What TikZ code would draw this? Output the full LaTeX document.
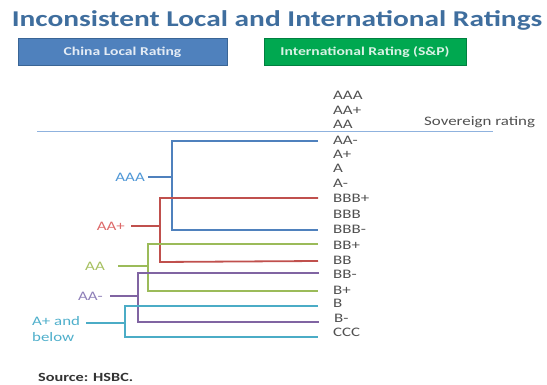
\documentclass[tikz,border=0pt]{standalone}
\usepackage{fontspec}
\setmainfont{Carlito}[FakeStretch=1.3]
\definecolor{titleblue}{HTML}{3F6E9E}
\definecolor{boxblue}{HTML}{4F81BD}
\definecolor{boxblueb}{HTML}{3A6595}
\definecolor{boxgreen}{HTML}{00A850}
\definecolor{boxgreenb}{HTML}{008040}
\definecolor{cblue}{HTML}{4F81BD}
\definecolor{cred}{HTML}{C0504D}
\definecolor{cgreen}{HTML}{9BBB59}
\definecolor{cpurple}{HTML}{8064A2}
\definecolor{ccyan}{HTML}{4BACC6}
\definecolor{lblue}{HTML}{4F97D6}
\definecolor{lred}{HTML}{DD6A6A}
\definecolor{lgreen}{HTML}{A6C060}
\definecolor{lpurple}{HTML}{8E7FB8}
\definecolor{lcyan}{HTML}{4FAFCB}
\definecolor{rategray}{HTML}{505050}
\definecolor{sovline}{HTML}{8FB2DE}
\begin{document}
\begin{tikzpicture}[x=1pt,y=-1pt,
  rate/.style={anchor=west,inner sep=0pt,text=rategray,font=\fontsize{13}{13}\selectfont},
  lefttag/.style={anchor=east,inner sep=0pt,font=\fontsize{13}{16}\selectfont},
  conn/.style={line width=1.8pt},
  hdrbox/.style={minimum width=209pt,minimum height=27pt,inner sep=0pt,line width=1pt,font=\bfseries\fontsize{12}{12}\selectfont}]
\useasboundingbox (0,0) rectangle (547,385);
% title
\node[inner sep=0pt,text=titleblue,font=\bfseries\fontsize{22.6}{23}\selectfont] (title) at (277,20) {Inconsistent Local and International Ratings};
% header boxes
\node[hdrbox,fill=boxblue,draw=boxblueb,text=white!85!boxblue] (hlocal) at (122.5,52) {China Local Rating};
\node[hdrbox,minimum width=202pt,fill=boxgreen,draw=boxgreenb,text=white!85!boxgreen] (hintl) at (365,52) {International Rating (S\&P)};
% sovereign line
\coordinate (sovL) at (37,132);
\coordinate (sovR) at (493,132);
\draw[sovline,line width=1pt] (sovL) -- (sovR);
\node[rate,anchor=base west] (sov) at (424,126) {Sovereign rating};
% rating scale
\node[rate] (rAAA) at (333,95) {AAA};
\node[rate] (rAAp) at (333,110) {AA+};
\node[rate] (rAA) at (333,124) {AA};
\node[rate] (rAAm) at (333,140) {AA-};
\node[rate] (rAp) at (333,154) {A+};
\node[rate] (rA) at (333,168) {A};
\node[rate] (rAm) at (333,183) {A-};
\node[rate] (rBBBp) at (333,198) {BBB+};
\node[rate] (rBBB) at (333,214) {BBB};
\node[rate] (rBBBm) at (333,229) {BBB-};
\node[rate] (rBBp) at (333,245) {BB+};
\node[rate] (rBB) at (333,260) {BB};
\node[rate] (rBBm) at (333,274) {BB-};
\node[rate] (rBp) at (333,290) {B+};
\node[rate] (rB) at (333,303) {B};
\node[rate] (rBm) at (334,318) {B-};
\node[rate] (rCCC) at (333,332) {CCC};
% line ends near the scale
\coordinate (eAAm) at (318,141);
\coordinate (eBBBp) at (318,198);
\coordinate (eBBBm) at (318,230);
\coordinate (eBBp) at (318,244);
\coordinate (eBB) at (318,261);
\coordinate (eBBm) at (319,273);
\coordinate (eBp) at (318,291);
\coordinate (eB) at (318,306);
\coordinate (eBm) at (319,322);
\coordinate (eCCC) at (318,337);
% bracket bottoms
\coordinate (bBlue) at (172,230);
\coordinate (bRed) at (160,262);
\coordinate (bGreen) at (148,291);
\coordinate (bPurple) at (138,322);
\coordinate (bCyan) at (125,337);
% local ratings
\node[lefttag,text=lblue] (lAAA) at (145,177) {AAA};
\node[lefttag,text=lred] (lAAp) at (125,226) {AA+};
\node[lefttag,text=lgreen] (lAA) at (105,266) {AA};
\node[lefttag,text=lpurple] (lAAm) at (103,296) {AA-};
\node[lefttag,anchor=west,align=left,text=lcyan] (lAp) at (32,329) {A+ and\\below};
% tick starts
\coordinate (tAAA) at (148,177);
\coordinate (tAAp) at (131,226);
\coordinate (tAA) at (118,266);
\coordinate (tAAm) at (110,296);
\coordinate (tAp) at (86,323);
% connectors
\draw[conn,cblue] (eAAm) -| (bBlue) -- (eBBBm);
\draw[conn,cblue] (tAAA) -- (tAAA -| bBlue);
\draw[conn,cred] (eBBBp) -| (bRed) -- (eBB);
\draw[conn,cred] (tAAp) -- (tAAp -| bRed);
\draw[conn,cgreen] (eBBp) -| (bGreen) -- (eBp);
\draw[conn,cgreen] (tAA) -- (tAA -| bGreen);
\draw[conn,cpurple] (eBBm) -| (bPurple) -- (eBm);
\draw[conn,cpurple] (tAAm) -- (tAAm -| bPurple);
\draw[conn,ccyan] (eB) -| (bCyan) -- (eCCC);
\draw[conn,ccyan] (tAp) -- (tAp -| bCyan);
% source
\node[anchor=west,inner sep=0pt,text=black!80,font=\bfseries\fontsize{12.5}{12.5}\selectfont] (src) at (38,377) {Source: HSBC.};
\end{tikzpicture}
\end{document}
